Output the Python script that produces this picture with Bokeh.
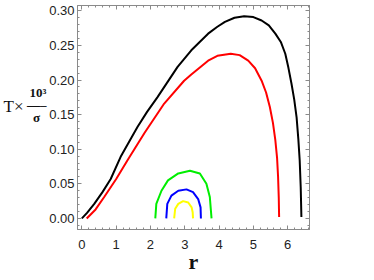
from bokeh.plotting import figure
from bokeh.models import (Range1d, SingleIntervalTicker, NumeralTickFormatter, LinearAxis,
                          Legend, LegendItem, CustomJSTickFormatter, FixedTicker)
from bokeh.embed import file_html
from bokeh.resources import INLINE

# ---- data ----
r_q0 = [0.0, 0.15, 0.36, 0.6, 0.84, 1.13, 1.62, 1.9, 2.20, 2.79, 3.19, 3.68, 3.95, 4.17, 4.45, 4.73,
        5.0, 5.24, 5.45, 5.64, 5.8, 5.93, 6.02, 6.11, 6.19, 6.26, 6.31, 6.35, 6.38, 6.40]
T_q0 = [0.0, 0.008, 0.021, 0.038, 0.057, 0.089, 0.132, 0.154, 0.175, 0.219, 0.243, 0.267, 0.277, 0.284, 0.290, 0.292,
        0.291, 0.286, 0.279, 0.267, 0.255, 0.238, 0.218, 0.195, 0.172, 0.146, 0.115, 0.084, 0.045, 0.002]

r_q05 = [0.14, 0.4, 0.65, 1.0, 1.33, 1.82, 2.40, 2.98, 3.19, 3.68, 3.95, 4.34, 4.6, 4.85, 5.05, 5.24,
         5.37, 5.48, 5.57, 5.64, 5.69, 5.72, 5.74, 5.75]
T_q05 = [0.0, 0.013, 0.031, 0.057, 0.084, 0.123, 0.166, 0.199, 0.208, 0.228, 0.235, 0.238, 0.236, 0.228, 0.217, 0.199,
         0.182, 0.161, 0.138, 0.113, 0.088, 0.060, 0.030, 0.002]

r_q06 = [2.14, 2.17, 2.32, 2.51, 2.81, 3.15, 3.44, 3.63, 3.73, 3.78]
T_q06 = [0.0, 0.021, 0.040, 0.055, 0.065, 0.069, 0.065, 0.050, 0.031, 0.0]

r_q07 = [2.46, 2.49, 2.61, 2.81, 3.05, 3.24, 3.39, 3.46, 3.47]
T_q07 = [0.0, 0.021, 0.033, 0.040, 0.042, 0.038, 0.028, 0.016, 0.0]

r_q075 = [2.69, 2.72, 2.81, 2.95, 3.10, 3.20, 3.23, 3.24]
T_q075 = [0.0, 0.014, 0.021, 0.025, 0.023, 0.016, 0.009, 0.0]

series_labels = ["Q=0", "Q=0.5", "Q=0.6", "Q=0.7", "Q=0.75"]
series_colors = ["#000000", "#ff0000", "#00ee00", "#0000ff", "#ffff00"]

TICK_FONT = "Liberation Sans"
SERIF = "Liberation Serif"
FRAME = "#8a8a8a"

p = figure(width=374, height=280, frame_width=232, frame_height=224,
           output_backend="svg", toolbar_location=None,
           x_range=Range1d(-0.128, 6.636), y_range=Range1d(-0.016, 0.3077),
           min_border_left=76, min_border_right=66, min_border_top=5, min_border_bottom=51,
           x_axis_location=None, y_axis_location=None)
p.xgrid.visible = False
p.ygrid.visible = False
p.outline_line_color = FRAME
p.background_fill_color = "white"
p.border_fill_color = "white"

def style_axis(ax, labels=True):
    ax.axis_line_color = FRAME
    ax.major_tick_line_color = FRAME
    ax.minor_tick_line_color = FRAME
    ax.major_tick_in = 4
    ax.major_tick_out = 0
    ax.minor_tick_in = 2
    ax.minor_tick_out = 0
    if labels:
        ax.major_label_text_font = TICK_FONT
        ax.major_label_text_font_size = "13px"
        ax.major_label_text_color = "#222222"
    else:
        ax.formatter = CustomJSTickFormatter(code="return ''")
        ax.major_label_text_font_size = "0px"
        ax.major_label_standoff = 0

def title_axis(text, size, style, standoff, line_height=1.2):
    ax = LinearAxis(ticker=FixedTicker(ticks=[]), axis_label=text)
    ax.axis_line_color = None
    ax.major_tick_line_color = None
    ax.minor_tick_line_color = None
    ax.major_tick_in = 0
    ax.major_tick_out = 0
    ax.minor_tick_in = 0
    ax.minor_tick_out = 0
    ax.major_label_text_font_size = "0px"
    ax.major_label_standoff = 0
    ax.axis_label_orientation = "horizontal"
    ax.axis_label_standoff = standoff
    ax.axis_label_text_font = SERIF
    ax.axis_label_text_font_size = size
    ax.axis_label_text_font_style = style
    ax.axis_label_text_color = "#111111"
    ax.axis_label_text_line_height = line_height
    return ax

xb = LinearAxis(ticker=SingleIntervalTicker(interval=1, num_minor_ticks=5), axis_label="r")
style_axis(xb)
xb.major_label_standoff = 10
xb.axis_label_text_font = SERIF
xb.axis_label_text_font_size = "22px"
xb.axis_label_text_font_style = "bold"
xb.axis_label_text_color = "#111111"
xb.axis_label_standoff = -3

yl = LinearAxis(ticker=SingleIntervalTicker(interval=0.05, num_minor_ticks=5),
                formatter=NumeralTickFormatter(format="0.00"))
style_axis(yl)
yl.major_label_standoff = 3

# y title  "T×(10³/σ)" split in two label-only axes (blank last lines lift them a little)
yf = title_axis("10³\n—–\n  σ\n\u00a0\n\u00a0", "13px", "bold", 0, 0.85)
yt = title_axis("T×\n\u00a0", "17px", "normal", 0)

xt = LinearAxis(ticker=SingleIntervalTicker(interval=1, num_minor_ticks=5))
style_axis(xt, labels=False)
yr = LinearAxis(ticker=SingleIntervalTicker(interval=0.05, num_minor_ticks=5))
style_axis(yr, labels=False)
p.add_layout(xb, "below")
p.add_layout(yl, "left")
p.add_layout(yf, "left")
p.add_layout(yt, "left")
p.add_layout(xt, "above")
p.add_layout(yr, "right")

nan = float("nan")
xs = [r_q0, r_q05, r_q06, r_q07, r_q075]
ys = [T_q0, T_q05, T_q06, T_q07, T_q075]
items = []
for xv, yv, c, lab in zip(xs, ys, series_colors, series_labels):
    p.line(xv, yv, line_color=c, line_width=2)
    dot = p.scatter(x=[nan], y=[nan], marker="circle", size=6, fill_color=c, line_color=c)
    items.append(LegendItem(label=lab, renderers=[dot]))

legend = Legend(items=items, location=(0, -8), orientation="vertical",
                glyph_width=10, glyph_height=20, label_height=20, spacing=24,
                label_standoff=5, padding=0, margin=0,
                border_line_color=None, background_fill_alpha=0,
                label_text_font=TICK_FONT, label_text_font_size="12px",
                label_text_color="#222222")
p.add_layout(legend, "right")

open("out.html", "w").write(file_html(p, INLINE))
